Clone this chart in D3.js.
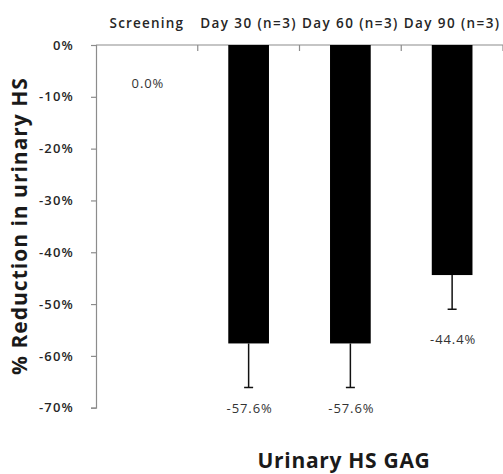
<!DOCTYPE html>
<html>
<head>
<meta charset="utf-8">
<script src="https://cdn.jsdelivr.net/npm/d3@7"></script>
<style>
  html, body { margin: 0; padding: 0; background: #fff; }
  svg { display: block; }
  text { font-family: "Open Sans", "Noto Sans", sans-serif; }
</style>
</head>
<body>
<svg id="chart" width="503" height="474"></svg>
<script>
// Urinary HS GAG reduction by visit
const categories = ["Screening", "Day 30 (n=3)", "Day 60 (n=3)", "Day 90 (n=3)"];
const values = [0.0, -57.6, -57.6, -44.4];
const errors = [0, 8.5, 8.5, 6.6];
const yTicks = [0, -10, -20, -30, -40, -50, -60, -70];

const svg = d3.select("#chart");
const plotLeft = 96, plotRight = 503, plotTop = 45, plotBottom = 407.7;

const x = d3.scaleBand().domain(categories).range([plotLeft, plotRight]).paddingInner(0.6).paddingOuter(0.3);
const xBounds = d3.scaleLinear().domain([0, categories.length]).range([plotLeft, plotRight]);
const y = d3.scaleLinear().domain([0, -70]).range([plotTop, plotBottom]);

const axisColor = "#8c8c8c";
const textColor = "#262626";
const pct = v => String(v).replace("−", "-");

// left value axis
const yAxis = svg.append("g")
  .attr("transform", `translate(${plotLeft},0)`)
  .call(d3.axisLeft(y).tickValues(yTicks).tickSize(5).tickPadding(17)
    .tickFormat(d => pct(d3.format(".0f")(d)) + "%"));
yAxis.select(".domain").attr("stroke", axisColor).attr("stroke-width", 1.2);
yAxis.selectAll(".tick line").attr("stroke", axisColor).attr("stroke-width", 1.2);
yAxis.selectAll(".tick text")
  .attr("fill", textColor)
  .style("font-size", "13px")
  .style("font-weight", "600")
  .style("letter-spacing", "1.2px");

// top category axis along the zero line
const xAxis = svg.append("g").attr("transform", `translate(0,${y(0)})`);
xAxis.append("line")
  .attr("x1", plotLeft).attr("x2", plotRight)
  .attr("stroke", axisColor).attr("stroke-width", 1.2);
xAxis.selectAll("line.tick")
  .data(d3.range(1, categories.length + 1))
  .join("line")
  .attr("class", "tick")
  .attr("x1", d => xBounds(d)).attr("x2", d => xBounds(d))
  .attr("y1", 0).attr("y2", 6)
  .attr("stroke", axisColor).attr("stroke-width", 1.2);
xAxis.selectAll("text")
  .data(categories)
  .join("text")
  .attr("x", d => x(d) + x.bandwidth() / 2)
  .attr("y", -17)
  .attr("text-anchor", "middle")
  .attr("fill", textColor)
  .style("font-size", "13.5px")
  .style("font-weight", "600")
  .style("letter-spacing", (d, i) => i === 0 ? "1.2px" : "1.4px")
  .text(d => d);

// bars
svg.selectAll("rect.bar")
  .data(categories.map((c, i) => ({ c, v: values[i], e: errors[i] })))
  .join("rect")
  .attr("class", "bar")
  .attr("x", d => x(d.c))
  .attr("width", x.bandwidth())
  .attr("y", d => y(Math.max(0, d.v)))
  .attr("height", d => Math.abs(y(d.v) - y(0)))
  .attr("fill", "#000");

// error bars (downward only)
const eb = svg.append("g").attr("stroke", "#111").attr("stroke-width", 1.5);
categories.forEach((c, i) => {
  if (!errors[i]) return;
  const cx = x(c) + x.bandwidth() / 2;
  eb.append("line").attr("x1", cx).attr("x2", cx)
    .attr("y1", y(values[i])).attr("y2", y(values[i] - errors[i]));
  eb.append("line").attr("x1", cx - 4.5).attr("x2", cx + 4.5)
    .attr("y1", y(values[i] - errors[i])).attr("y2", y(values[i] - errors[i]));
});

// value labels
const labelY = [y(-7.5), y(-70.2), y(-70.2), y(-56.8)];
svg.selectAll("text.val")
  .data(categories)
  .join("text")
  .attr("class", "val")
  .attr("x", d => x(d) + x.bandwidth() / 2 + 1)
  .attr("y", (d, i) => labelY[i])
  .attr("dy", "0.35em")
  .attr("text-anchor", "middle")
  .attr("fill", "#333")
  .style("font-size", "13px")
  .style("letter-spacing", "0.9px")
  .text((d, i) => pct(d3.format(".1f")(values[i])) + "%");

// axis titles
svg.append("text")
  .attr("transform", `translate(19,226) rotate(-90)`)
  .attr("text-anchor", "middle")
  .attr("dy", "0.36em")
  .attr("fill", "#1a1a1a")
  .style("font-size", "21px")
  .style("font-weight", "700")
  .style("letter-spacing", "1px")
  .text("% Reduction in urinary HS");

svg.append("text")
  .attr("x", 344)
  .attr("y", 468)
  .attr("text-anchor", "middle")
  .attr("fill", "#1a1a1a")
  .style("font-size", "21px")
  .style("font-weight", "700")
  .style("letter-spacing", "0.7px")
  .text("Urinary HS GAG");
</script>
</body>
</html>
